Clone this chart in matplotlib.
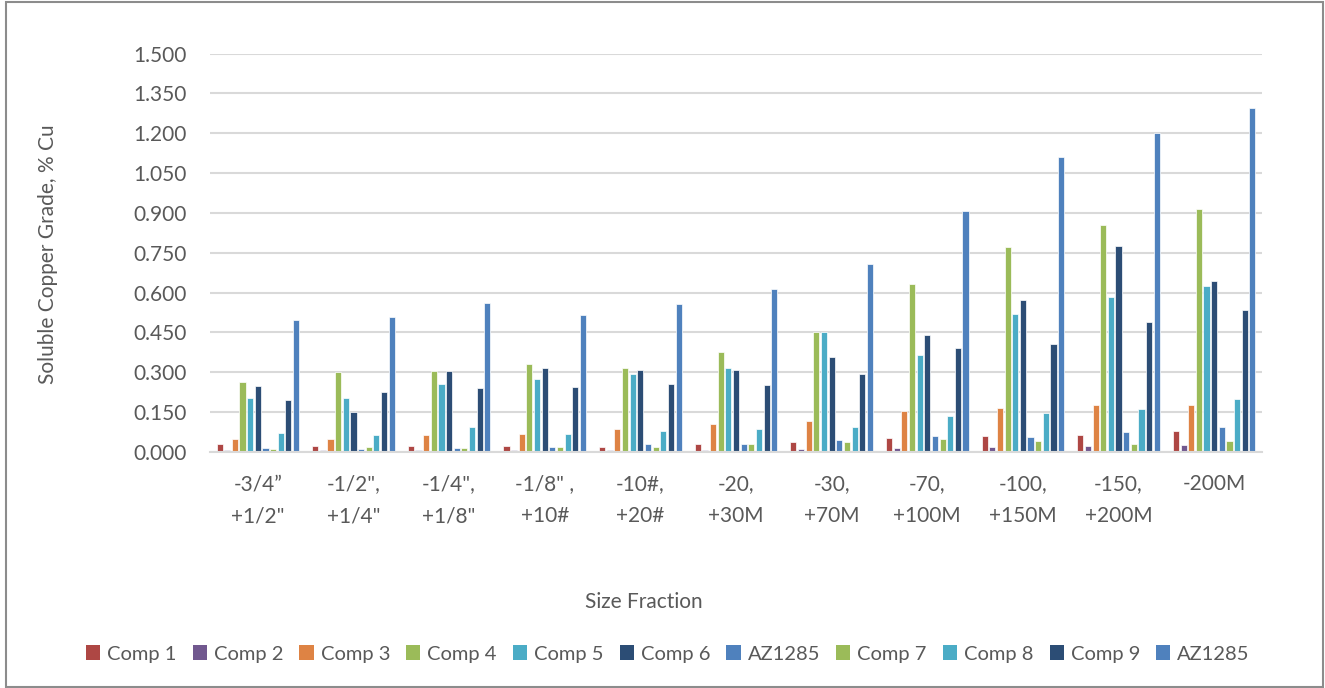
import matplotlib
matplotlib.use("Agg")
import matplotlib.pyplot as plt
from matplotlib.patches import Rectangle, Patch
import numpy as np

plt.rcParams['font.family'] = ['Lato', 'DejaVu Sans']

categories = ['-3/4\u201d\n+1/2"', '-1/2",\n+1/4"', '-1/4",\n+1/8"', '-1/8" ,\n+10#',
              '-10#,\n+20#', '-20,\n+30M', '-30,\n+70M', '-70,\n+100M',
              '-100,\n+150M', '-150,\n+200M', '-200M']

series_names = ['Comp 1', 'Comp 2', 'Comp 3', 'Comp 4', 'Comp 5', 'Comp 6',
                'AZ1285', 'Comp 7', 'Comp 8', 'Comp 9', 'AZ1285']

comp1 = [0.029, 0.021, 0.021, 0.021, 0.020, 0.029, 0.036, 0.053, 0.059, 0.065, 0.078]
comp2 = [0.006, 0.006, 0.006, 0.006, 0.007, 0.008, 0.010, 0.015, 0.018, 0.023, 0.025]
comp3 = [0.048, 0.049, 0.063, 0.069, 0.088, 0.107, 0.115, 0.153, 0.166, 0.178, 0.176]
comp4 = [0.265, 0.302, 0.304, 0.333, 0.315, 0.377, 0.451, 0.631, 0.770, 0.855, 0.916]
comp5 = [0.202, 0.202, 0.256, 0.274, 0.293, 0.315, 0.451, 0.365, 0.518, 0.582, 0.623]
comp6 = [0.247, 0.149, 0.304, 0.318, 0.309, 0.310, 0.359, 0.442, 0.574, 0.774, 0.642]
az1285_a = [0.015, 0.013, 0.014, 0.019, 0.029, 0.030, 0.044, 0.060, 0.055, 0.075, 0.093]
comp7 = [0.010, 0.018, 0.014, 0.018, 0.020, 0.029, 0.039, 0.048, 0.040, 0.031, 0.041]
comp8 = [0.072, 0.063, 0.094, 0.069, 0.079, 0.085, 0.094, 0.137, 0.145, 0.161, 0.198]
comp9 = [0.197, 0.227, 0.240, 0.244, 0.256, 0.252, 0.295, 0.390, 0.408, 0.490, 0.533]
az1285_b = [0.496, 0.507, 0.562, 0.515, 0.556, 0.614, 0.707, 0.909, 1.112, 1.202, 1.296]

series_values = [comp1, comp2, comp3, comp4, comp5, comp6,
                 az1285_a, comp7, comp8, comp9, az1285_b]

colors = ['#AE4744', '#71588F', '#DE8344', '#9BBB59', '#4BACC6', '#2C4D75',
          '#4F81BD', '#9BBB59', '#4BACC6', '#2C4D75', '#4F81BD']

text_color = '#595959'
grid_color = '#d9d9d9'

W, H = 1325, 688
fig = plt.figure(figsize=(W / 100, H / 100), dpi=100)
ax = fig.add_axes([210 / W, 1 - 452 / H, (1262 - 210) / W, (452 - 53.5) / H])

x = np.arange(len(categories))
pitch = 0.08
bar_w = 0.064
n = len(series_values)
for i, (vals, col) in enumerate(zip(series_values, colors)):
    offs = (i - (n - 1) / 2) * pitch
    ax.bar(x + offs, vals, width=bar_w, color=col, edgecolor='white',
           linewidth=0.5, zorder=3)

ax.set_xlim(-0.5, len(categories) - 0.5)
ax.set_ylim(0, 1.5)
yt = np.arange(0, 1.5001, 0.15)
ax.set_yticks(yt)
ax.set_yticklabels([f'{v:.3f}' for v in yt])
ax.set_xticks(x)
ax.set_xticklabels(categories, linespacing=1.75)

ax.tick_params(axis='both', length=0, colors=text_color, labelsize=15)
ax.tick_params(axis='y', pad=16.5)
ax.tick_params(axis='x', pad=16)
for t in ax.get_xticklabels():
    t.set_verticalalignment('top')

ax.grid(axis='y', color=grid_color, linewidth=1.5, zorder=0)
ax.set_axisbelow(True)
for s in ['top', 'right', 'left']:
    ax.spines[s].set_visible(False)
ax.spines['bottom'].set_color(grid_color)
ax.spines['bottom'].set_linewidth(1.5)
ax.spines['bottom'].set_zorder(4)

fig.text(48 / W, 1 - 254 / H, 'Soluble Copper Grade, % Cu', rotation=90,
         ha='center', va='center', color=text_color, fontsize=15)
fig.text(644 / W, 1 - 602 / H, 'Size Fraction', ha='center', va='center',
         color=text_color, fontsize=15)

handles = [Patch(facecolor=c, edgecolor='none') for c in colors]
leg = fig.legend(handles, series_names, loc='center', ncol=len(series_names),
                 bbox_to_anchor=(668 / W, 1 - 654 / H), frameon=False,
                 fontsize=14.5, handlelength=0.7, handleheight=0.7,
                 handletextpad=0.35, columnspacing=0.8, borderaxespad=0)
for t in leg.get_texts():
    t.set_color(text_color)

fig.patches.append(Rectangle((6 / W, 1 / H), (1323 - 6) / W, (686 - 1) / H,
                             transform=fig.transFigure, fill=False,
                             edgecolor='#8c8c8c', linewidth=1.5))

fig.savefig('out.png', dpi=100)
